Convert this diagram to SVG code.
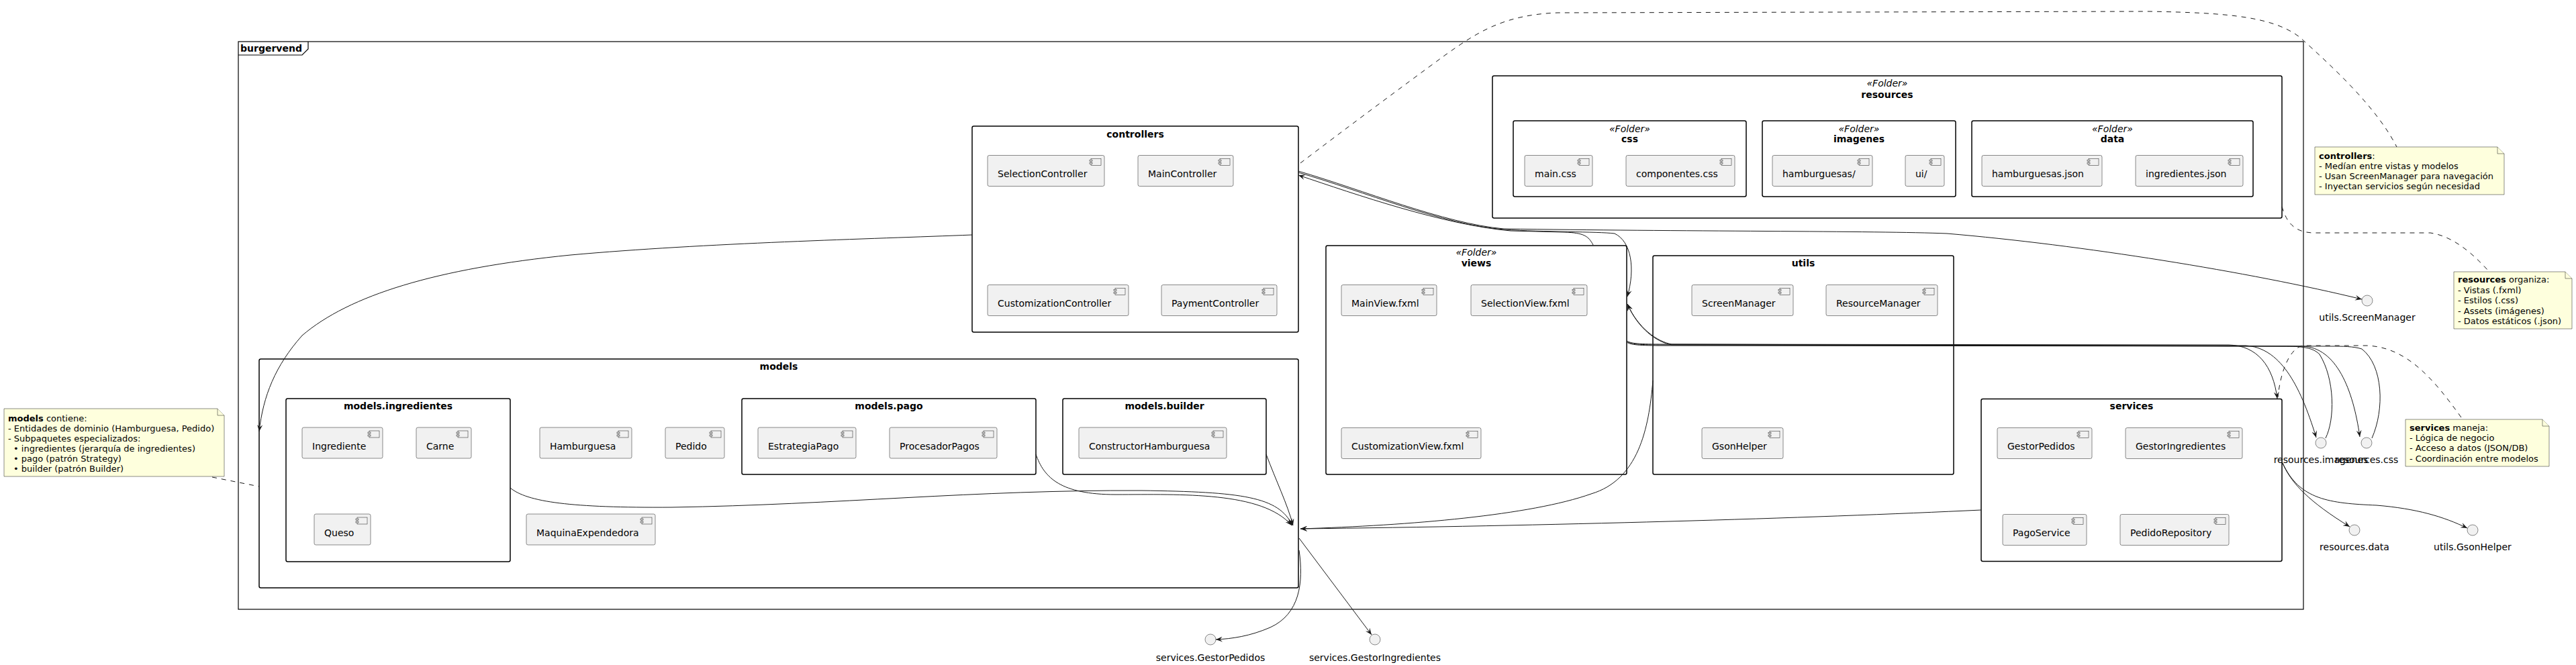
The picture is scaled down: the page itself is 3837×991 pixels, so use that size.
<svg xmlns="http://www.w3.org/2000/svg" xmlns:xlink="http://www.w3.org/1999/xlink" width="3837" height="991" viewBox="0 0 3837 991">
<style>
.pkg{fill:none;stroke:#000;stroke-width:1.5}
.frm{fill:none;stroke:#000;stroke-width:1.2}
.cmp{fill:#F1F1F1;stroke:#181818;stroke-width:0.5}
.t{font-family:"DejaVu Sans",sans-serif;font-size:14px;fill:#000}
.b{font-family:"DejaVu Sans",sans-serif;font-size:14px;font-weight:bold;fill:#000}
.st{font-family:"DejaVu Sans",sans-serif;font-size:14px;font-style:italic;fill:#000}
.c{text-anchor:middle}
.note{fill:#FEFFDD;stroke:#181818;stroke-width:0.5}
.n{font-family:"DejaVu Sans",sans-serif;font-size:13px;fill:#000}
.e{fill:none;stroke:#181818;stroke-width:1}
.d{fill:none;stroke:#181818;stroke-width:1;stroke-dasharray:7,7}
.if{fill:#F1F1F1;stroke:#181818;stroke-width:0.5}
</style>
<defs>
<marker id="ah" viewBox="0 0 10 8" refX="10" refY="4" markerWidth="10" markerHeight="8" markerUnits="userSpaceOnUse" orient="auto"><path d="M10,4 L0,0 L4,4 L0,8 Z" fill="#181818"/></marker>
<g id="ico"><rect class="cmp" x="0" y="0" width="15" height="10"/><rect class="cmp" x="-2" y="2" width="4" height="2"/><rect class="cmp" x="-2" y="6" width="4" height="2"/></g>
</defs>
<rect width="3837" height="991" fill="#fff"/>

<g id="burgervend">
<rect class="frm" x="355" y="62" width="3076" height="846"/>
<path class="frm" d="M355,82 L450,82 L459,73 L459,62"/>
<text class="b" x="358" y="77">burgervend</text>
</g>

<g id="controllers">
<rect class="pkg" x="1448" y="188" width="486" height="307" rx="2.5"/>
<text class="b c" x="1691" y="205">controllers</text>
<g id="SelectionController"><rect class="cmp" x="1471" y="231.5" width="174" height="46" rx="2.5"/><use xlink:href="#ico" x="1625" y="236.5"/><text class="t" x="1486" y="264">SelectionController</text></g>
<g id="MainController"><rect class="cmp" x="1695" y="231.5" width="142" height="46" rx="2.5"/><use xlink:href="#ico" x="1817" y="236.5"/><text class="t" x="1710" y="264">MainController</text></g>
<g id="CustomizationController"><rect class="cmp" x="1471" y="424.5" width="210" height="46" rx="2.5"/><use xlink:href="#ico" x="1661" y="429.5"/><text class="t" x="1486" y="457">CustomizationController</text></g>
<g id="PaymentController"><rect class="cmp" x="1730" y="424.5" width="172" height="46" rx="2.5"/><use xlink:href="#ico" x="1882" y="429.5"/><text class="t" x="1745" y="457">PaymentController</text></g>
</g>

<g id="models">
<rect class="pkg" x="386" y="535" width="1548" height="341" rx="2.5"/>
<text class="b c" x="1160" y="551">models</text>
<g id="models.ingredientes">
<rect class="pkg" x="426" y="594" width="334" height="243" rx="2.5"/>
<text class="b c" x="593" y="610">models.ingredientes</text>
<g id="Ingrediente"><rect class="cmp" x="450" y="637" width="120" height="46" rx="2.5"/><use xlink:href="#ico" x="550" y="642"/><text class="t" x="465" y="669.5">Ingrediente</text></g>
<g id="Carne"><rect class="cmp" x="620" y="637" width="82" height="46" rx="2.5"/><use xlink:href="#ico" x="682" y="642"/><text class="t" x="635" y="669.5">Carne</text></g>
<g id="Queso"><rect class="cmp" x="468" y="766" width="84" height="46" rx="2.5"/><use xlink:href="#ico" x="532" y="771"/><text class="t" x="483" y="798.5">Queso</text></g>
</g>
<g id="Hamburguesa"><rect class="cmp" x="804" y="637" width="137" height="46" rx="2.5"/><use xlink:href="#ico" x="921" y="642"/><text class="t" x="819" y="669.5">Hamburguesa</text></g>
<g id="Pedido"><rect class="cmp" x="991" y="637" width="88" height="46" rx="2.5"/><use xlink:href="#ico" x="1059" y="642"/><text class="t" x="1006" y="669.5">Pedido</text></g>
<g id="MaquinaExpendedora"><rect class="cmp" x="784" y="766" width="192" height="46" rx="2.5"/><use xlink:href="#ico" x="956" y="771"/><text class="t" x="799" y="798.5">MaquinaExpendedora</text></g>
<g id="models.pago">
<rect class="pkg" x="1105" y="594" width="438" height="113" rx="2.5"/>
<text class="b c" x="1324" y="610">models.pago</text>
<g id="EstrategiaPago"><rect class="cmp" x="1129" y="637" width="146" height="46" rx="2.5"/><use xlink:href="#ico" x="1255" y="642"/><text class="t" x="1144" y="669.5">EstrategiaPago</text></g>
<g id="ProcesadorPagos"><rect class="cmp" x="1325" y="637" width="160" height="46" rx="2.5"/><use xlink:href="#ico" x="1465" y="642"/><text class="t" x="1340" y="669.5">ProcesadorPagos</text></g>
</g>
<g id="models.builder">
<rect class="pkg" x="1583" y="594" width="303" height="113" rx="2.5"/>
<text class="b c" x="1734.5" y="610">models.builder</text>
<g id="ConstructorHamburguesa"><rect class="cmp" x="1607" y="637" width="220" height="46" rx="2.5"/><use xlink:href="#ico" x="1807" y="642"/><text class="t" x="1622" y="669.5">ConstructorHamburguesa</text></g>
</g>
</g>

<g id="views">
<rect class="pkg" x="1975" y="366" width="448" height="341" rx="2.5"/>
<text class="st c" x="2199" y="381">«Folder»</text>
<text class="b c" x="2199" y="397">views</text>
<g id="MainView.fxml"><rect class="cmp" x="1998" y="424.5" width="142" height="46" rx="2.5"/><use xlink:href="#ico" x="2120" y="429.5"/><text class="t" x="2013" y="457">MainView.fxml</text></g>
<g id="SelectionView.fxml"><rect class="cmp" x="2191" y="424.5" width="173" height="46" rx="2.5"/><use xlink:href="#ico" x="2344" y="429.5"/><text class="t" x="2206" y="457">SelectionView.fxml</text></g>
<g id="CustomizationView.fxml"><rect class="cmp" x="1998" y="637.5" width="208" height="46" rx="2.5"/><use xlink:href="#ico" x="2186" y="642.5"/><text class="t" x="2013" y="670">CustomizationView.fxml</text></g>
</g>

<g id="utils">
<rect class="pkg" x="2462" y="381" width="448" height="326" rx="2.5"/>
<text class="b c" x="2686" y="397">utils</text>
<g id="ScreenManager"><rect class="cmp" x="2520" y="424.5" width="151" height="46" rx="2.5"/><use xlink:href="#ico" x="2651" y="429.5"/><text class="t" x="2535" y="457">ScreenManager</text></g>
<g id="ResourceManager"><rect class="cmp" x="2720" y="424.5" width="166" height="46" rx="2.5"/><use xlink:href="#ico" x="2866" y="429.5"/><text class="t" x="2735" y="457">ResourceManager</text></g>
<g id="GsonHelper"><rect class="cmp" x="2535" y="637.5" width="121" height="46" rx="2.5"/><use xlink:href="#ico" x="2636" y="642.5"/><text class="t" x="2550" y="670">GsonHelper</text></g>
</g>

<g id="services">
<rect class="pkg" x="2951" y="594.5" width="448" height="242" rx="2.5"/>
<text class="b c" x="3175" y="610">services</text>
<g id="GestorPedidos"><rect class="cmp" x="2975" y="637.5" width="141" height="46" rx="2.5"/><use xlink:href="#ico" x="3096" y="642.5"/><text class="t" x="2990" y="670">GestorPedidos</text></g>
<g id="GestorIngredientes"><rect class="cmp" x="3166" y="637.5" width="174" height="46" rx="2.5"/><use xlink:href="#ico" x="3320" y="642.5"/><text class="t" x="3181" y="670">GestorIngredientes</text></g>
<g id="PagoService"><rect class="cmp" x="2983" y="766.5" width="125" height="46" rx="2.5"/><use xlink:href="#ico" x="3088" y="771.5"/><text class="t" x="2998" y="799">PagoService</text></g>
<g id="PedidoRepository"><rect class="cmp" x="3158" y="766.5" width="162" height="46" rx="2.5"/><use xlink:href="#ico" x="3300" y="771.5"/><text class="t" x="3173" y="799">PedidoRepository</text></g>
</g>

<g id="resources">
<rect class="pkg" x="2223" y="113" width="1176" height="212" rx="2.5"/>
<text class="st c" x="2811" y="129">«Folder»</text>
<text class="b c" x="2811" y="145.5">resources</text>
<g id="css">
<rect class="pkg" x="2254" y="180" width="347" height="113" rx="2.5"/>
<text class="st c" x="2427.5" y="196.5">«Folder»</text>
<text class="b c" x="2427.5" y="212">css</text>
<g id="main.css"><rect class="cmp" x="2271" y="231.5" width="101" height="46" rx="2.5"/><use xlink:href="#ico" x="2352" y="236.5"/><text class="t" x="2286" y="264">main.css</text></g>
<g id="componentes.css"><rect class="cmp" x="2422" y="231.5" width="162" height="46" rx="2.5"/><use xlink:href="#ico" x="2564" y="236.5"/><text class="t" x="2437" y="264">componentes.css</text></g>
</g>
<g id="imagenes">
<rect class="pkg" x="2625" y="180" width="288" height="113" rx="2.5"/>
<text class="st c" x="2769" y="196.5">«Folder»</text>
<text class="b c" x="2769" y="212">imagenes</text>
<g id="hamburguesas"><rect class="cmp" x="2640" y="231.5" width="149" height="46" rx="2.5"/><use xlink:href="#ico" x="2769" y="236.5"/><text class="t" x="2655" y="264">hamburguesas/</text></g>
<g id="ui"><rect class="cmp" x="2838" y="231.5" width="58" height="46" rx="2.5"/><use xlink:href="#ico" x="2876" y="236.5"/><text class="t" x="2853" y="264">ui/</text></g>
</g>
<g id="data">
<rect class="pkg" x="2937" y="180" width="419" height="113" rx="2.5"/>
<text class="st c" x="3146.5" y="196.5">«Folder»</text>
<text class="b c" x="3146.5" y="212">data</text>
<g id="hamburguesas.json"><rect class="cmp" x="2952" y="231.5" width="179" height="46" rx="2.5"/><use xlink:href="#ico" x="3111" y="236.5"/><text class="t" x="2967" y="264">hamburguesas.json</text></g>
<g id="ingredientes.json"><rect class="cmp" x="3181" y="231.5" width="160" height="46" rx="2.5"/><use xlink:href="#ico" x="3321" y="236.5"/><text class="t" x="3196" y="264">ingredientes.json</text></g>
</g>
</g>

<g id="interfaces">
<g id="i-ScreenManager"><circle class="if" cx="3526" cy="448" r="8"/><text class="t c" x="3526" y="478">utils.ScreenManager</text></g>
<g id="i-imagenes"><circle class="if" cx="3457" cy="660" r="8"/><text class="t c" x="3457" y="690">resources.imagenes</text></g>
<g id="i-css"><circle class="if" cx="3525" cy="660" r="8"/><text class="t c" x="3525" y="690">resources.css</text></g>
<g id="i-data"><circle class="if" cx="3507" cy="790" r="8"/><text class="t c" x="3507" y="820">resources.data</text></g>
<g id="i-GsonHelper"><circle class="if" cx="3683" cy="790" r="8"/><text class="t c" x="3683" y="820">utils.GsonHelper</text></g>
<g id="i-GestorPedidos"><circle class="if" cx="1803" cy="953" r="8"/><text class="t c" x="1803" y="985">services.GestorPedidos</text></g>
<g id="i-GestorIngredientes"><circle class="if" cx="2048" cy="953" r="8"/><text class="t c" x="2048" y="985">services.GestorIngredientes</text></g>
</g>

<g id="notes">
<g id="note-models">
<path class="note" d="M6,609 L324,609 L334,619 L334,710 L6,710 Z"/><path class="note" d="M324,609 L324,619 L334,619"/>
<text class="n" x="12" y="628"><tspan font-weight="bold">models</tspan> contiene:</text>
<text class="n" x="12" y="643">- Entidades de dominio (Hamburguesa, Pedido)</text>
<text class="n" x="12" y="658">- Subpaquetes especializados:</text>
<text class="n" x="20" y="673">• ingredientes (jerarquía de ingredientes)</text>
<text class="n" x="20" y="688">• pago (patrón Strategy)</text>
<text class="n" x="20" y="703">• builder (patrón Builder)</text>
</g>
<g id="note-controllers">
<path class="note" d="M3448,219 L3720,219 L3730,229 L3730,290 L3448,290 Z"/><path class="note" d="M3720,219 L3720,229 L3730,229"/>
<text class="n" x="3454" y="237"><tspan font-weight="bold">controllers</tspan>:</text>
<text class="n" x="3454" y="252">- Medían entre vistas y modelos</text>
<text class="n" x="3454" y="267">- Usan ScreenManager para navegación</text>
<text class="n" x="3454" y="282">- Inyectan servicios según necesidad</text>
</g>
<g id="note-resources">
<path class="note" d="M3655,405 L3821,405 L3831,415 L3831,490 L3655,490 Z"/><path class="note" d="M3821,405 L3821,415 L3831,415"/>
<text class="n" x="3661" y="421"><tspan font-weight="bold">resources</tspan> organiza:</text>
<text class="n" x="3661" y="436.5">- Vistas (.fxml)</text>
<text class="n" x="3661" y="452">- Estilos (.css)</text>
<text class="n" x="3661" y="467.5">- Assets (imágenes)</text>
<text class="n" x="3661" y="483">- Datos estáticos (.json)</text>
</g>
<g id="note-services">
<path class="note" d="M3583,625 L3787,625 L3797,635 L3797,695 L3583,695 Z"/><path class="note" d="M3787,625 L3787,635 L3797,635"/>
<text class="n" x="3589" y="642"><tspan font-weight="bold">services</tspan> maneja:</text>
<text class="n" x="3589" y="657">- Lógica de negocio</text>
<text class="n" x="3589" y="672">- Acceso a datos (JSON/DB)</text>
<text class="n" x="3589" y="687.5">- Coordinación entre modelos</text>
</g>
</g>

<g id="connectors">
<path class="e" marker-end="url(#ah)" d="M1448,350 C1300,356 1050,362 850,380 C650,400 520,440 450,500 C410,545 392,590 386,643"/>
<path class="e" marker-end="url(#ah)" d="M2373,365 C2366,352 2360,347 2330,346 L2250,344 C2150,335 2020,290 1934,261"/>
<path class="e" marker-end="url(#ah)" d="M1934,257 C2030,285 2150,335 2240,342 C2300,346 2380,345 2405,348 C2430,360 2436,400 2424,442"/>
<path class="e" marker-end="url(#ah)" d="M1934,255 C2030,283 2150,333 2240,341 C2500,345 2800,344 2900,348 C3100,365 3350,405 3518,446"/>
<path class="e" marker-end="url(#ah)" d="M2462,567 C2456,640 2440,715 2370,736 C2280,768 2100,783 1937,788"/>
<path class="e" marker-end="url(#ah)" d="M2951,760 C2700,772 2300,784 1937,788"/>
<path class="e" marker-end="url(#ah)" d="M760,727 C785,748 850,757 1000,756 C1250,752 1450,730 1700,731 C1850,733 1905,740 1925,783"/>
<path class="e" marker-end="url(#ah)" d="M1543,677 C1555,712 1580,737 1662,737 C1760,737 1880,732 1924,783"/>
<path class="e" marker-end="url(#ah)" d="M1886,677 C1900,715 1918,752 1926,783"/>
<path class="e" marker-end="url(#ah)" d="M1935,802 L2043,946"/>
<path class="e" marker-end="url(#ah)" d="M1935,820 C1942,868 1936,915 1892,935 C1862,948 1835,952 1811,953"/>
<path class="e" marker-end="url(#ah)" d="M2423,508 C2430,512 2440,513 2480,513 L3320,514 C3362,515 3386,545 3392,594"/>
<path class="e" marker-end="url(#ah)" d="M2423,509 C2430,513 2440,514 2480,514 L3345,515 C3395,518 3425,570 3450,652"/>
<path class="e" marker-end="url(#ah)" d="M2423,510 C2430,514 2440,515 2480,515 L3430,516 C3480,518 3505,580 3515,651"/>
<path class="e" marker-end="url(#ah)" d="M3464,653 C3478,625 3478,565 3455,528 C3445,518 3430,516 3400,516 L2490,514 C2468,510 2440,490 2424,453"/>
<path class="e" marker-end="url(#ah)" d="M3533,653 C3552,610 3550,545 3518,520 C3505,516 3490,516 3470,516 L2490,513 C2468,509 2440,489 2424,453"/>
<path class="e" marker-end="url(#ah)" d="M3399,688 C3412,720 3440,748 3500,785"/>
<path class="e" marker-end="url(#ah)" d="M3400,690 C3425,745 3470,750 3540,753 C3600,758 3640,770 3675,787"/>
<path class="d" d="M316,711 L386,725"/>
<path class="d" d="M1937,243 C2000,195 2090,128 2150,84 C2200,48 2240,22 2320,19 L3200,17 C3320,19 3385,25 3425,55 C3475,100 3540,160 3570,219"/>
<path class="d" d="M3399,308 C3406,332 3418,346 3445,347 L3620,347 C3655,352 3685,380 3706,403"/>
<path class="d" d="M3666,622 C3625,565 3585,517 3525,515 L3430,515 C3408,520 3396,560 3393,592"/>
</g>
</svg>
